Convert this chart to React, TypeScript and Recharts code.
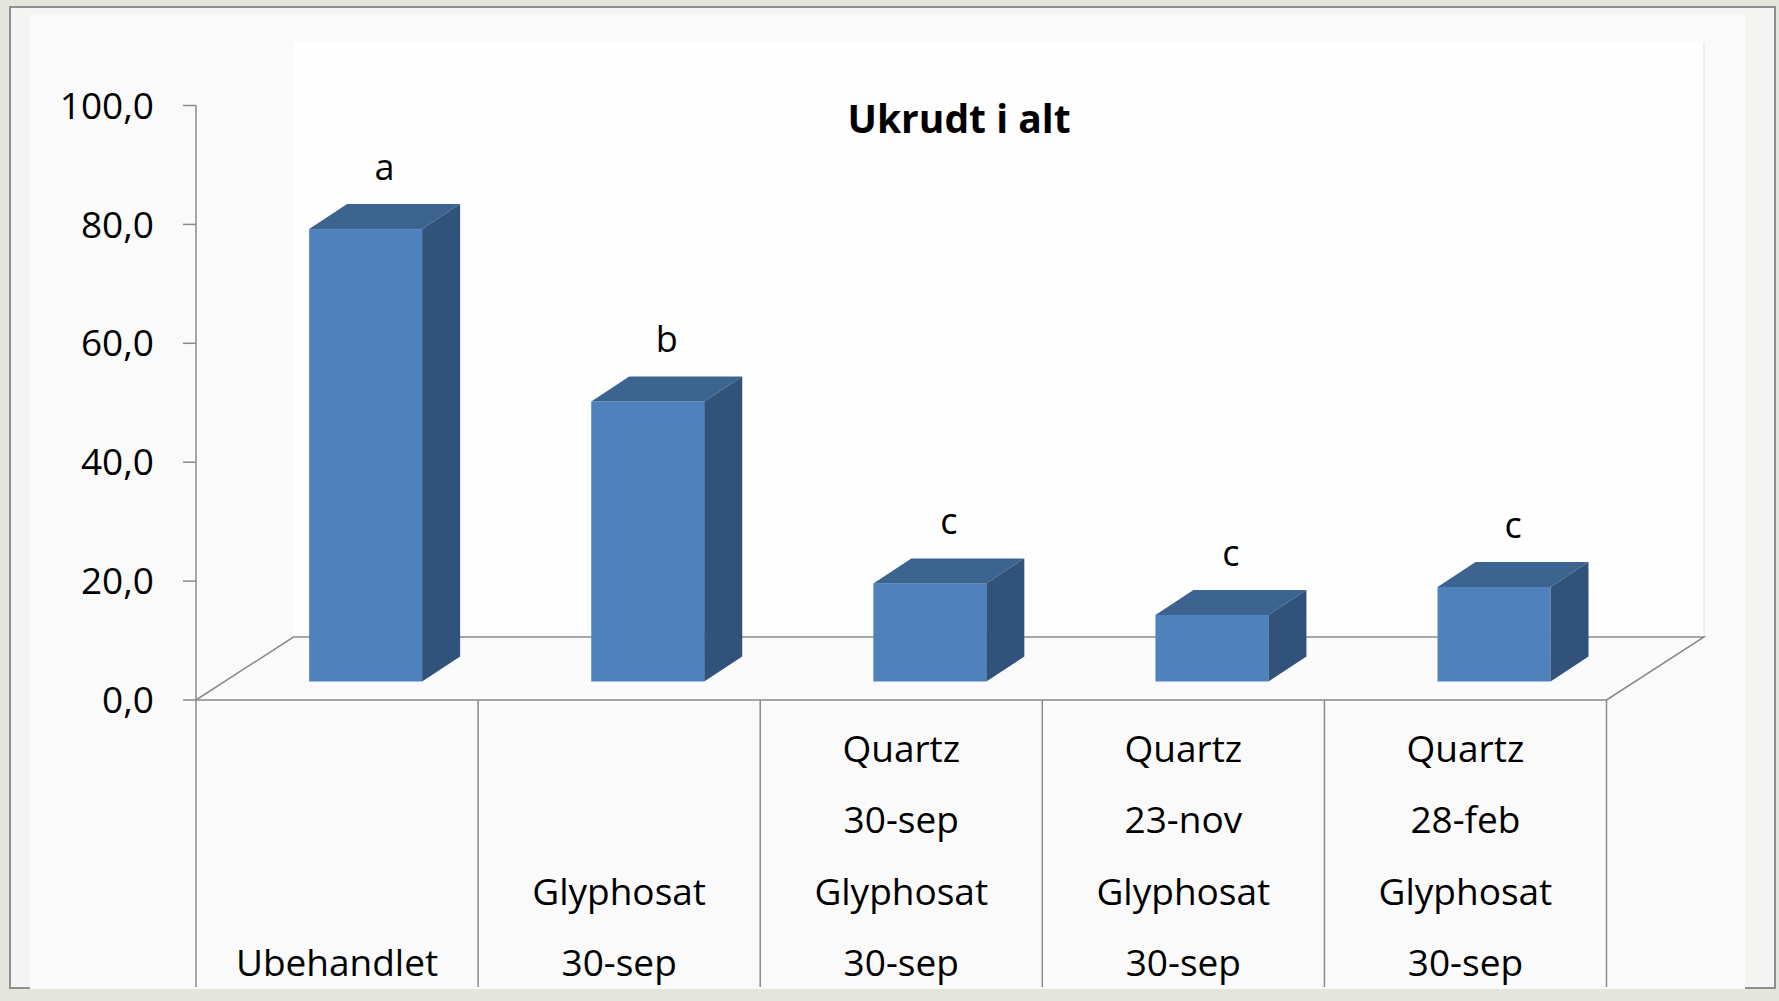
import { Bar, BarChart, Customized, LabelList, XAxis, YAxis } from "recharts";

const categories = [
  "Ubehandlet",
  "Glyphosat\n30-sep",
  "Quartz\n30-sep\nGlyphosat\n30-sep",
  "Quartz\n23-nov\nGlyphosat\n30-sep",
  "Quartz\n28-feb\nGlyphosat\n30-sep",
];
const values = [76.1, 47.1, 16.5, 11.2, 15.9];
const letters = ["a", "b", "c", "c", "c"];
const yTicks = [0, 20, 40, 60, 80, 100];

const data = categories.map((name, i) => ({ name, value: values[i], sig: letters[i] }));

// layout (page pixels)
const W = 1779;
const H = 1001;
const PLOT_L = 196;
const PLOT_R = 1606.5;
const PLOT_T = 105.5;
const PLOT_B = 700;
const Y_AXIS_W = 150;
const X_AXIS_H = 290;
const BAND = (PLOT_R - PLOT_L) / categories.length;

// 3d look
const FLOOR_DX = 97.5;
const FLOOR_DY = 63;
const FRONT_DX = 28.5;
const FRONT_DY = 18.5;
const DEPTH_DX = 38;
const DEPTH_DY = 25;

const FRONT = "#4f81bd";
const TOP = "#3c6490";
const SIDE = "#31527a";
const GRAY = "#8a8a8a";
const FONT = "'Open Sans', sans-serif";

function Bar3D(props: any) {
  const { x, y, width, height } = props;
  const fx = x + FRONT_DX;
  const fy = y - FRONT_DY;
  const fb = fy + height;
  const r = fx + width;
  return (
    <g>
      <rect x={fx} y={fy} width={width} height={height} fill={FRONT} />
      <path
        d={`M${fx},${fy} L${fx + DEPTH_DX},${fy - DEPTH_DY} L${r + DEPTH_DX},${fy - DEPTH_DY} L${r},${fy} Z`}
        fill={TOP}
      />
      <path
        d={`M${r},${fy} L${r + DEPTH_DX},${fy - DEPTH_DY} L${r + DEPTH_DX},${fb - DEPTH_DY} L${r},${fb} Z`}
        fill={SIDE}
      />
    </g>
  );
}

function SigLabel(props: any) {
  const { x, y, width, value } = props;
  return (
    <text
      x={x + FRONT_DX + width / 2 + DEPTH_DX / 2}
      y={y - FRONT_DY - DEPTH_DY - 24}
      textAnchor="middle"
      fontFamily={FONT}
      fontSize={36}
      fill="#000"
    >
      {value}
    </text>
  );
}

function CategoryTick(props: any) {
  const { x, payload, index } = props;
  const lines = String(payload.value).split("\n");
  const lastCenter = PLOT_B + 263;
  return (
    <g>
      <line x1={x - BAND / 2} x2={x - BAND / 2} y1={PLOT_B} y2={987} stroke={GRAY} strokeWidth={1.5} />
      {index === categories.length - 1 && (
        <line x1={x + BAND / 2} x2={x + BAND / 2} y1={PLOT_B} y2={987} stroke={GRAY} strokeWidth={1.5} />
      )}
      {lines.map((line, k) => (
        <text
          key={k}
          x={x}
          y={lastCenter - (lines.length - 1 - k) * 71.5}
          dy="0.36em"
          textAnchor="middle"
          fontFamily={FONT}
          fontSize={37}
          fill="#000"
        >
          {line}
        </text>
      ))}
    </g>
  );
}

function Floor() {
  const bx = FLOOR_DX;
  const by = PLOT_B - FLOOR_DY;
  return (
    <g>
      <rect x={PLOT_L + bx} y={42} width={PLOT_R - PLOT_L} height={by - 42} fill="#fefefe" />
      <line x1={PLOT_R + bx} x2={PLOT_R + bx} y1={42} y2={by} stroke="#e8e8e8" strokeWidth={1.5} />
      <path
        d={`M${PLOT_L},${PLOT_B} L${PLOT_L + bx},${by} L${PLOT_R + bx},${by} L${PLOT_R},${PLOT_B}`}
        fill="#fbfbfb"
        stroke={GRAY}
        strokeWidth={1.5}
      />
    </g>
  );
}

export default function App() {
  return (
    <div style={{ position: "absolute", left: 0, top: 0, width: W, height: H, background: "#e4e6de" }}>
      <div
        style={{
          position: "absolute",
          left: 9,
          top: 6,
          width: 1763,
          height: 979,
          border: "2px solid #8f8f8f",
          background: "#f4f4f2",
        }}
      />
      <div style={{ position: "absolute", left: 30, top: 14, width: 1715, height: 975, background: "#fafafa" }} />
      <div style={{ position: "absolute", left: 0, top: 0 }}>
        <BarChart
          width={W}
          height={H}
          data={data}
          barCategoryGap="30%"
          margin={{ top: PLOT_T, left: PLOT_L - Y_AXIS_W, right: W - PLOT_R, bottom: H - PLOT_B - X_AXIS_H }}
        >
          <Customized component={<Floor />} />
          <text x={959} y={119} dy="0.36em" textAnchor="middle" fontFamily={FONT} fontSize={39} fontWeight={700}>
            Ukrudt i alt
          </text>
          <XAxis
            dataKey="name"
            height={X_AXIS_H}
            tickSize={0}
            tickMargin={0}
            interval={0}
            axisLine={{ stroke: GRAY, strokeWidth: 1.5 }}
            tick={<CategoryTick />}
          />
          <YAxis
            width={Y_AXIS_W}
            domain={[0, 100]}
            ticks={yTicks}
            tickSize={13}
            tickMargin={29}
            tickFormatter={(v) => Number(v).toFixed(1).replace(".", ",")}
            tick={{ fontFamily: FONT, fontSize: 37, fill: "#000" }}
            axisLine={{ stroke: GRAY, strokeWidth: 1.5 }}
            tickLine={{ stroke: GRAY, strokeWidth: 1.5 }}
          />
          <Bar dataKey="value" shape={<Bar3D />} isAnimationActive={false}>
            <LabelList dataKey="sig" content={<SigLabel />} />
          </Bar>
        </BarChart>
      </div>
    </div>
  );
}
